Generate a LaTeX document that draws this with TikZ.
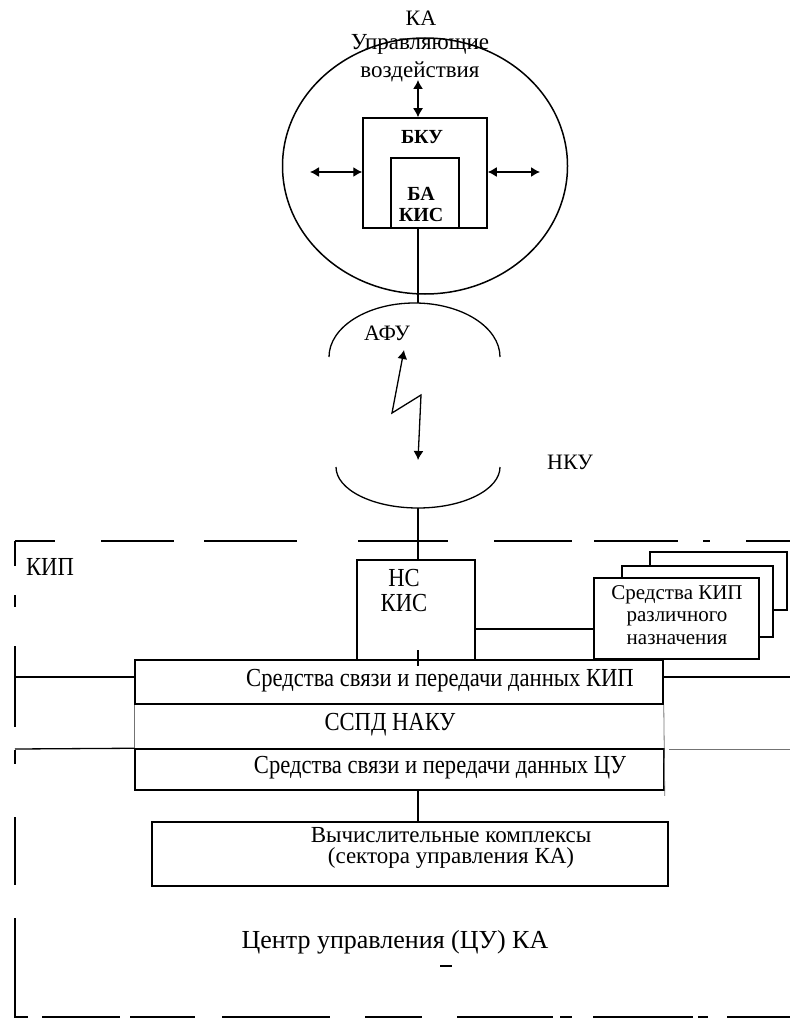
\documentclass[tikz,border=0pt]{standalone}
\usepackage{fontspec}
\setmainfont{Liberation Serif}
\newfontfamily\condfont[FakeStretch=0.87]{Liberation Serif}
\usetikzlibrary{arrows.meta,positioning,shapes.geometric}

\begin{document}
\begin{tikzpicture}[x=1pt, y=1pt,
  font=\fontsize{22}{26}\selectfont,
  box/.style={draw, line width=1.5pt, inner sep=0pt, fill=white},
  txt/.style={align=center, inner sep=0pt},
  ctxt/.style={txt, font=\condfont\fontsize{26}{29}\selectfont},
  ln/.style={line width=1.3pt},
  thinln/.style={line width=0.8pt, black!55},
  dbl/.style={{Latex[length=9pt,width=10pt]}-{Latex[length=9pt,width=10pt]}, line width=1.3pt}
]
\useasboundingbox (0,0) rectangle (790,-1019);

% spacecraft
\node[txt] (kalbl) at (421,-18) {КА};
\node[draw, ellipse, line width=1.5pt, minimum width=285, minimum height=256,
  inner sep=0pt] (ka) at (425,-166) {};
\node[txt, font=\fontsize{23}{28}\selectfont] (upr) at (420,-58) {Управляющие\\воздействия};
\node[box, minimum width=124, minimum height=110] (bku) at (425,-173) {};
\node[txt, font=\fontsize{20}{24}\bfseries] (bkut) at (422,-137) {БКУ};
\node[box, minimum width=68, minimum height=70] (bakis) at (425,-193) {};
\node[txt, font=\fontsize{20}{21}\bfseries] (bakist) at (421,-204) {БА\\КИС};
\coordinate (ctl) at (418,-80);
\coordinate (lft) at (310,-172);
\coordinate (rgt) at (540,-172);
\draw[dbl] (ctl) -- (ctl |- bku.north);
\draw[dbl] (lft) -- (lft -| bku.west);
\draw[dbl] (rgt) -- (rgt -| bku.east);

% radio link
\coordinate (afutop) at (418,-303);
\coordinate (afubot) at (418,-508);
\draw[ln] (bakis.south -| ctl) -- (afutop);
\draw[ln] (329,-357) arc[start angle=180, end angle=0, x radius=85.5, y radius=54];
\draw[ln] (336,-467) arc[start angle=180, end angle=360, x radius=82, y radius=41];
\node[txt] (afu) at (387,-333) {АФУ};
\coordinate (zz1) at (404,-350);
\coordinate (zz2) at (392,-413);
\coordinate (zz3) at (421,-395);
\coordinate (zz4) at (418,-460);
\draw[dbl] (zz1) -- (zz2) -- (zz3) -- (zz4);
\node[txt] (nku) at (570,-462) {НКУ};

% ground segment
\foreach \a/\b in {15/55, 101/174, 204/297, 358/448, 494/572, 594/678, 703/710, 746/790}
  \draw[ln] (\a,-541) -- (\b,-541);
\foreach \a/\b in {541/566, 595/607, 646/727, 750/764, 817/885, 918/1018}
  \draw[ln] (15,-\a) -- (15,-\b);
\foreach \a/\b in {15/28, 42/120, 130/195, 222/330, 365/422, 457/553, 560/572, 593/693, 698/708, 727/790}
  \draw[ln] (\a,-1017) -- (\b,-1017);
\node[ctxt] (kip) at (50,-567) {КИП};

\node[box, minimum width=118, minimum height=100] (nskis) at (416,-610) {};
\node[ctxt, font=\condfont\fontsize{26}{25}\selectfont] (nskist) at (404,-591) {НС\\КИС};
\draw[ln] (afubot) -- (afubot |- nskis.north);

\node[box, minimum width=137, minimum height=58] (sk3) at (718.5,-581) {};
\node[box, minimum width=151, minimum height=71] (sk2) at (697.5,-601.5) {};
\node[box, minimum width=165, minimum height=81] (sk1) at (676.5,-618.5) {};
\node[txt, font=\fontsize{21}{22.5}\selectfont] (sk1t) at (677,-615) {Средства КИП\\различного\\назначения};
\draw[ln] (nskis.east |- 0,-629) -- (sk1.west |- 0,-629);

\node[box, minimum width=528, minimum height=44] (kipsd) at (399,-682) {};
\node[ctxt] (kipsdt) at (440,-681) {Средства связи и передачи данных КИП};
\draw[ln] (ctl |- 0,-650) -- (ctl |- 0,-666);
\draw[ln] (kipsd.west |- 0,-677) -- (15,-677);
\draw[ln] (kipsd.east |- 0,-677) -- (790,-677);
\node[ctxt] (sspd) at (390,-725) {ССПД НАКУ};

\node[box, minimum width=529, minimum height=41] (cusd) at (399.5,-769.5) {};
\node[ctxt] (cusdt) at (440,-768) {Средства связи и передачи данных ЦУ};
\draw[thinln] (kipsd.south west) -- (cusd.north west);
\draw[thinln] (kipsd.south east) -- ([yshift=-5pt]cusd.south east);
\draw[ln] (cusd.north west) -- (15,-749);
\draw[thinln] (669,-749) -- (790,-749);

\node[box, minimum width=516, minimum height=64] (vk) at (410,-854) {};
\node[txt, font=\fontsize{23}{21}\selectfont] (vkt) at (451,-848) {Вычислительные комплексы\\(сектора управления КА)};
\draw[ln] (cusd.south -| ctl) -- (vk.north -| ctl);

\node[txt, font=\fontsize{26}{30}\selectfont] (cu) at (395,-942) {Центр управления (ЦУ) КА};
\draw[ln] (440,-966) -- (452,-966);
\end{tikzpicture}
\end{document}
